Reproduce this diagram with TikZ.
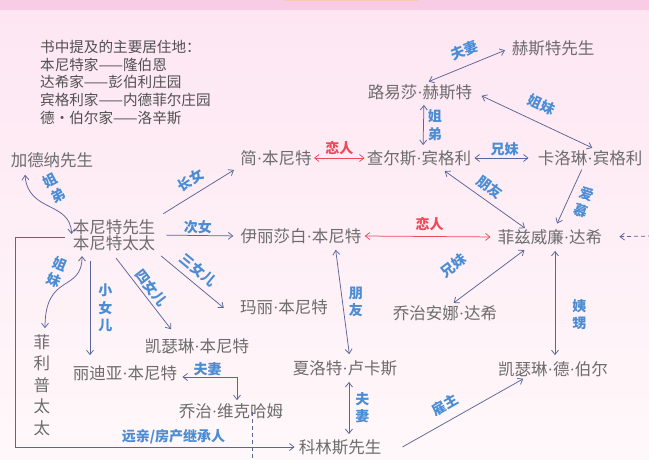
\documentclass[tikz,border=0pt]{standalone}
\usepackage{fontspec}
\newfontfamily\cjk{Noto Sans CJK SC}
\newfontfamily\dotfont{Liberation Serif}
\newcommand{\md}{{\dotfont\char"00B7}}
\usepackage{tikz}
\usetikzlibrary{
  arrows.meta,
  positioning
}
\definecolor{NameGray}{HTML}{6C6C6C}
\definecolor{NoteGray}{HTML}{505050}
\definecolor{RelBlue}{HTML}{4A8DD4}
\definecolor{LinkBlue}{HTML}{5A6598}
\definecolor{LoveRed}{HTML}{EE4A5A}
\definecolor{PinkTop}{HTML}{F9CCE5}
\definecolor{PinkBack}{HTML}{FDE6F2}
\definecolor{PinkLow}{HTML}{FFF8FA}
\definecolor{Peach}{HTML}{FBC6B4}
\tikzset{
  person/.style={
    text=NameGray,
    font=\cjk\fontsize{16.5}{18}\selectfont,
    inner sep=1pt
  },
  note/.style={
    text=NoteGray,
    font=\cjk\fontsize{14.6}{17.7}\selectfont,
    align=left,
    inner sep=0pt
  },
  rel/.style={
    text=RelBlue,
    font=\cjk\bfseries\fontsize{14}{17.5}\selectfont,
    align=center,
    inner sep=1pt
  },
  lovelabel/.style={
    rel,
    text=LoveRed
  },
  tie/.style={
    {Straight Barb[length=4.5pt,width=7pt]}-{Straight Barb[length=4.5pt,width=7pt]},
    draw=LinkBlue,
    line width=0.75pt
  },
  lead/.style={
    -{Straight Barb[length=4.5pt,width=7pt]},
    draw=LinkBlue,
    line width=0.75pt
  },
  love/.style={
    {Straight Barb[length=4.5pt,width=7pt]}-{Straight Barb[length=4.5pt,width=7pt]},
    draw=LoveRed,
    line width=0.75pt
  },
  trail/.style={
    draw=LinkBlue,
    line width=0.75pt,
    dash pattern=on 4pt off 3pt
  }
}

\begin{document}
\begin{tikzpicture}[x=1pt,y=-1pt]

  % background
  \useasboundingbox (0,0) rectangle (649,460);
  \shade[top color=PinkBack, bottom color=PinkLow] (0,10) rectangle (649,460);
  \fill[PinkTop] (0,0) rectangle (649,10);
  \fill[Peach] (285,0) rectangle (418,1.5);

  % legend
  \node[note, anchor=north west] (legend) at (40,40) {
    书中提及的主要居住地：\\
    本尼特家——隆伯恩\\
    达希家——彭伯利庄园\\
    宾格利家——内德菲尔庄园\\
    德•伯尔家——洛辛斯
  };

  % people
  \node[person] (hurst) at (553,48) {赫斯特先生};
  \node[person] (louisa) at (420,92) {路易莎\md 赫斯特};
  \node[person] (charles) at (419,158) {查尔斯\md 宾格利};
  \node[person] (caroline) at (590,158) {卡洛琳\md 宾格利};
  \node[person] (gardiner) at (52,160) {加德纳先生};
  \node[person] (jane) at (276,158) {简\md 本尼特};
  \node[person, align=center, font=\cjk\fontsize{16.5}{16.5}\selectfont] (parents) at (114,235) {
    本尼特先生\\本尼特太太
  };
  \node[person] (elizabeth) at (301,236) {伊丽莎白\md 本尼特};
  \node[person] (darcy) at (550,237) {菲兹威廉\md 达希};
  \node[person] (mary) at (284,307) {玛丽\md 本尼特};
  \node[person] (georgiana) at (445,313) {乔治安娜\md 达希};
  \node[person] (kitty) at (197,346) {凯瑟琳\md 本尼特};
  \node[person] (charlotte) at (345,368) {夏洛特\md 卢卡斯};
  \node[person] (debourgh) at (553,369) {凯瑟琳\md 德\md 伯尔};
  \node[person] (lydia) at (125,373) {丽迪亚\md 本尼特};
  \node[person] (wickham) at (231,411) {乔治\md 维克哈姆};
  \node[person, align=center, font=\cjk\fontsize{16.5}{21.5}\selectfont] (philips) at (42,385) {
    菲\\利\\普\\太\\太
  };
  \node[person] (collins) at (340,447) {科林斯先生};

  \coordinate (rightedge) at (652,236);
  \coordinate (bottomedge) at (252,462);

  % Hurst / Bingley
  \draw[tie, shorten <=6pt, shorten >=4pt]
  (hurst.west) --
  node[rel, sloped, above=7pt, pos=0.475] (lMarriedA) {夫妻}
  ([xshift=5pt]louisa.north);

  \draw[tie, shorten <=4pt, shorten >=4pt]
  ([xshift=4pt]louisa.south) --
  node[rel, right=3pt] (lSibA) {姐\\弟}
  ([xshift=4pt]charles.north);

  \draw[tie, shorten <=9pt, shorten >=3pt]
  (louisa.east) --
  node[rel, sloped, above=9pt, pos=0.5] (lSisA) {姐妹}
  ([xshift=5pt]caroline.north);

  \draw[tie, shorten <=2pt, shorten >=8pt]
  (charles.east) --
  node[rel, above=1pt] (lSibB) {兄妹}
  (caroline.west);

  \draw[love, shorten <=1pt, shorten >=1pt]
  (jane.east) --
  node[lovelabel, above=2pt] (lLoveA) {恋人}
  (charles.west);

  \draw[tie, shorten <=7pt]
  ([xshift=20pt]charles.south) --
  node[rel, sloped, above=5pt] (lFriendA) {朋友}
  ([xshift=-25pt]darcy.north);

  \draw[lead, shorten <=3pt, shorten >=5pt]
  ([xshift=-7pt]caroline.south) --
  node[rel, xshift=15pt, yshift=-5pt, rotate=-20] (lAdmire) {爱\\慕}
  ([xshift=5pt]darcy.north);

  % Bennet family
  \draw[lead, shorten <=8pt, shorten >=6pt]
  (parents.north east) --
  node[rel, sloped, above=6pt] (lFirst) {长女}
  (jane.south west);

  \draw[lead, shorten <=10pt, shorten >=6pt]
  (parents.east) --
  node[rel, above] (lSecond) {次女}
  (elizabeth.west);

  \draw[lead, shorten <=6pt]
  (parents.south east) --
  node[rel, sloped, above=5pt] (lThird) {三女儿}
  ([xshift=-15pt,yshift=-1pt]mary.west);

  \draw[lead]
  ([xshift=2pt,yshift=-6pt]parents.south) --
  node[rel, sloped, above=2pt] (lFourth) {四女儿}
  ([xshift=-26pt,yshift=8pt]kitty.north);

  \draw[lead, shorten <=9pt, shorten >=9pt]
  ([xshift=-24pt]parents.south) --
  node[rel, right=7pt] (lYoungest) {小\\女\\儿}
  ([xshift=-35pt]lydia.north);

  \draw[tie]
  ([xshift=-27pt,yshift=-6pt]gardiner.south) .. controls +(3,38) and +(-1,-33) ..
  ([yshift=1pt]parents.west)
  node[rel, pos=0.3, xshift=18pt, yshift=10pt, rotate=28] (lSibD) {姐\\弟};

  \draw[tie]
  ([xshift=-32pt,yshift=-4pt]parents.south) .. controls +(0,37) and +(0,-56) ..
  ([xshift=3pt,yshift=5pt]philips.north)
  node[rel, pos=0.3, xshift=-17pt, yshift=5pt, rotate=-22] (lSisB) {姐\\妹};

  \draw[lead, shorten >=3pt]
  ([xshift=-7pt,yshift=-2pt]parents.west) -- ++(-49,0) |-
  node[rel, above=2pt, pos=0.78] (lHeir) {远亲/房产继承人}
  (collins.west);

  \draw[tie, shorten <=4pt, shorten >=2pt]
  ([yshift=-4pt]lydia.east) -|
  node[rel, above, pos=0.25] (lMarriedB) {夫妻}
  ([xshift=6pt]wickham.north);

  \draw[trail]
  ([xshift=21pt,yshift=-1pt]wickham.center) --
  (bottomedge);

  % Elizabeth / Darcy
  \draw[tie, shorten <=5pt, shorten >=5pt]
  ([xshift=34pt]elizabeth.south) --
  node[rel, right=5pt] (lFriendB) {朋\\友}
  ([xshift=5pt]charlotte.north);

  \draw[love, shorten <=2pt, shorten >=6pt]
  (elizabeth.east) --
  node[lovelabel, above=4pt] (lLoveB) {恋人}
  (darcy.west);

  \draw[lead, dash pattern=on 4pt off 3pt, shorten >=16pt]
  (rightedge) --
  (darcy.east);

  \draw[tie, shorten <=7pt, shorten >=2pt]
  ([xshift=-20pt]darcy.south) --
  node[rel, sloped, above=22pt, pos=0.75] (lSibC) {兄妹}
  ([xshift=7pt]georgiana.north);

  \draw[tie, shorten <=5pt, shorten >=5pt]
  ([xshift=5pt]darcy.south) --
  node[rel, right=16pt, pos=0.6] (lKin) {姨\\甥}
  ([xshift=2pt]debourgh.north);

  % Collins
  \draw[tie, shorten <=5pt, shorten >=4pt]
  ([xshift=4pt]charlotte.south) --
  node[rel, right=5pt] (lMarriedC) {夫\\妻}
  ([xshift=9pt]collins.north);

  \draw[lead, shorten >=2pt]
  ([xshift=20pt]collins.east) --
  node[rel, sloped, above=8pt, pos=0.41] (lPatron) {雇主}
  ([xshift=-28pt]debourgh.south);

\end{tikzpicture}
\end{document}
